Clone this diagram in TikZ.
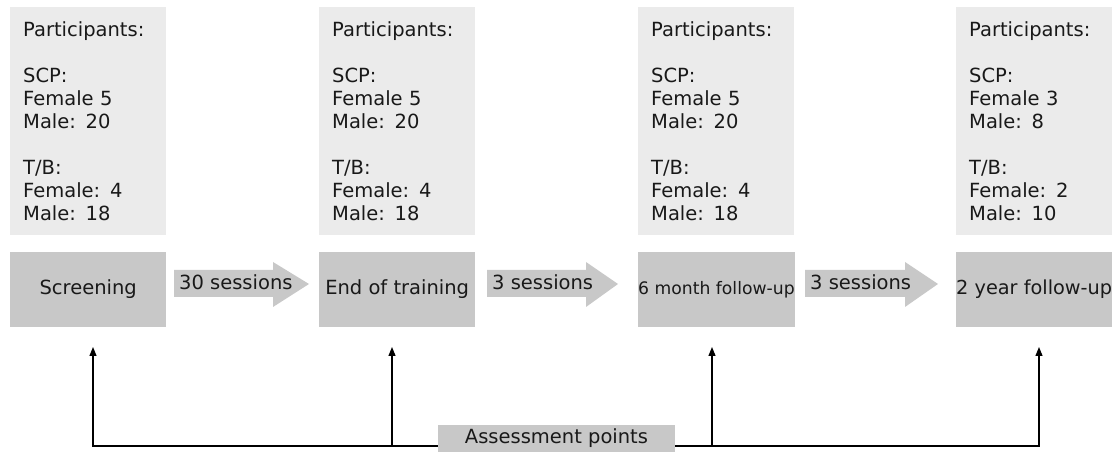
\documentclass[tikz,border=0pt]{standalone}
\usepackage{fontspec}
\setmainfont{DejaVu Sans}
\usetikzlibrary{arrows.meta}

\definecolor{boxlight}{RGB}{235,235,235}
\definecolor{boxdark}{RGB}{200,200,200}
\definecolor{inkgray}{RGB}{25,25,25}

\tikzset{
	partbox/.style={fill=boxlight, anchor=south west, inner sep=0pt,
	                minimum width=156bp, minimum height=228bp,
	                align=left, text width=130bp},
	stagebox/.style={fill=boxdark, anchor=south west, inner sep=0pt,
	                 minimum width=156bp, minimum height=75bp},
	pointer/.style={line width=1.2bp, draw=black,
	                >={Triangle[width=7bp, length=9bp]}},
}

\begin{document}
\begin{tikzpicture}[x=1bp, y=1bp, text=inkgray,
                    font=\fontsize{19.5bp}{23bp}\selectfont]
	\useasboundingbox (0,0) rectangle (1117,452);
	
	% Participants and stages
	\foreach \x/\stage/\fs/\scpF/\scpM/\tbF/\tbM [count=\i] in
	        {10/Screening/19.5/5/20/4/18,
	         319/End of training/19.5/5/20/4/18,
	         638/6 month follow-up/17.2/5/20/4/18,
	         956/2 year follow-up/19.3/3/8/2/10}{
		\node (part \i) at (\x,217) [partbox]
		      {Participants:\\[23bp]SCP:\\Female \scpF\\Male: \scpM\\[23bp]T/B:\\Female: \tbF\\Male: \tbM};
		\node (stage \i) at (\x,125) [stagebox, font=\fontsize{\fs bp}{23bp}\selectfont]
		      {\stage};
	}
	
	% Sessions between stages
	\foreach \xa/\xb/\xc/\sessions [count=\i] in
	        {174/273/309/30 sessions, 487/586/618/3 sessions, 805/905/938/3 sessions}{
		\fill [boxdark] (\xa,155) -- (\xb,155) -- (\xb,145) -- (\xc,168)
		             -- (\xb,190) -- (\xb,182) -- (\xa,182) -- cycle;
		\node (gap \i) at (\xa+5,162) [anchor=base west, inner sep=0pt] {\sessions};
	}
	
	% Assessment points
	\foreach \x [count=\i] in {93,392,712,1039}{
		\coordinate (foot \i) at (\x,6);
		\coordinate (top \i) at (\x,105);
	}
	\draw [pointer, <->] (top 1) -- (foot 1) -- (foot 4) -- (top 4);
	\draw [pointer, ->] (foot 2) -- (top 2);
	\draw [pointer, ->] (foot 3) -- (top 3);
	\node (assess) at (556.5,13.5)
	      [fill=boxdark, minimum width=237bp, minimum height=27bp, inner sep=0pt]
	      {Assessment points};
\end{tikzpicture}
\end{document}
